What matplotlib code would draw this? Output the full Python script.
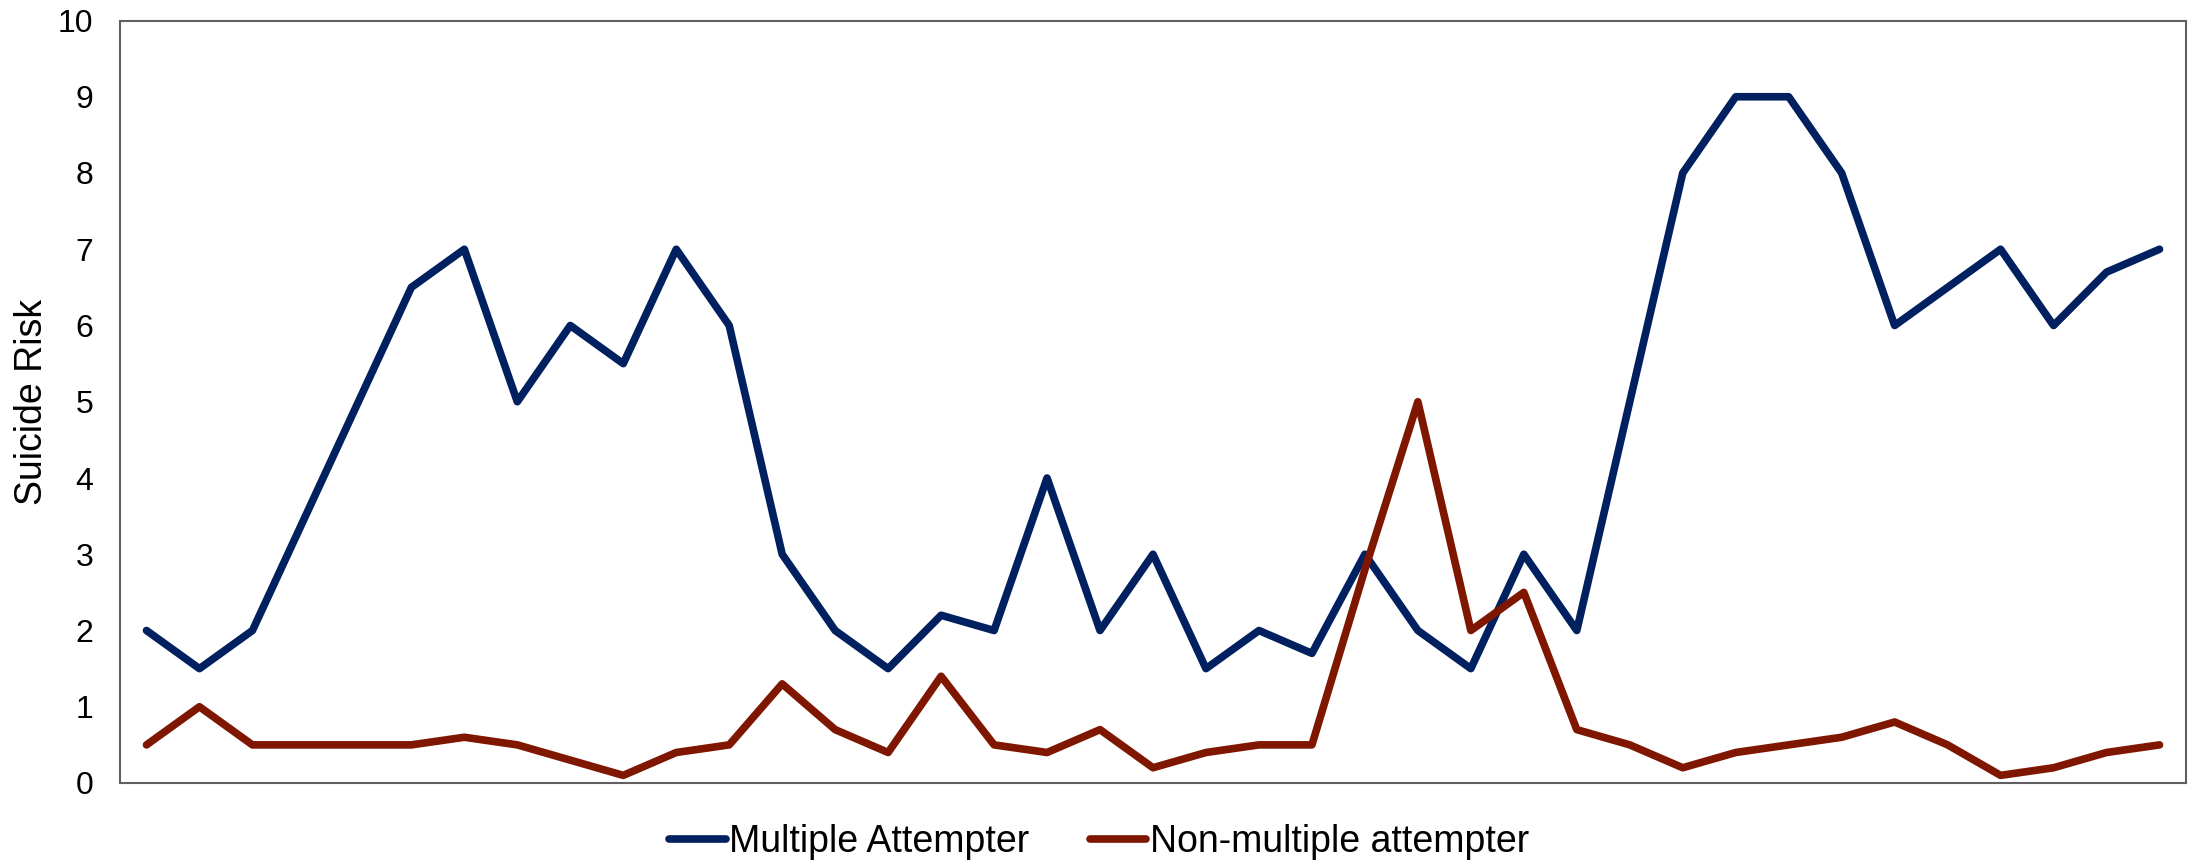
import numpy as np
import matplotlib.pyplot as plt

# Данные графика
multiple = [2, 1.5, 2, 3.5, 5, 6.5, 7, 5, 6, 5.5, 7, 6, 3, 2, 1.5, 2.2, 2, 4, 2, 3,
            1.5, 2, 1.7, 3, 2, 1.5, 3, 2, 5, 8, 9, 9, 8, 6, 6.5, 7, 6, 6.7, 7]
non_multiple = [0.5, 1, 0.5, 0.5, 0.5, 0.5, 0.6, 0.5, 0.3, 0.1, 0.4, 0.5, 1.3, 0.7, 0.4,
                1.4, 0.5, 0.4, 0.7, 0.2, 0.4, 0.5, 0.5, 2.8, 5, 2, 2.5, 0.7, 0.5, 0.2,
                0.4, 0.5, 0.6, 0.8, 0.5, 0.1, 0.2, 0.4, 0.5]
labels = ['Multiple Attempter', 'Non-multiple attempter']
colors = ['#002060', '#7F1600']
y_ticks = list(range(0, 11))

plt.rcParams['font.family'] = ['Liberation Sans', 'DejaVu Sans']

W, H = 2198, 864
fig = plt.figure(figsize=(W / 100, H / 100), dpi=100)
ax = fig.add_axes([120 / W, 1 - 783 / H, (2186 - 120) / W, (783 - 20.5) / H])

x = np.arange(len(multiple))
for series, lab, col in zip([multiple, non_multiple], labels, colors):
    ax.plot(x, series, color=col, lw=5.5, label=lab,
            solid_capstyle='round', solid_joinstyle='round')

ax.set_xlim(-0.5, len(multiple) - 0.5)
ax.set_ylim(0, 10)
ax.set_xticks([])
ax.set_yticks(y_ticks)
ax.tick_params(axis='y', length=0, pad=19, labelsize=23)
ax.set_ylabel('Suicide Risk', fontsize=27)
ax.yaxis.set_label_coords(-0.034, 0.5)

for s in ax.spines.values():
    s.set_color('#606060')
    s.set_linewidth(1.5)

fig.legend(loc='center', bbox_to_anchor=(0.5, 1 - 842 / H), ncol=2, frameon=False,
           fontsize=27, handlelength=1.5, handletextpad=0.1, columnspacing=1.6)

fig.savefig('out.png', dpi=100)
